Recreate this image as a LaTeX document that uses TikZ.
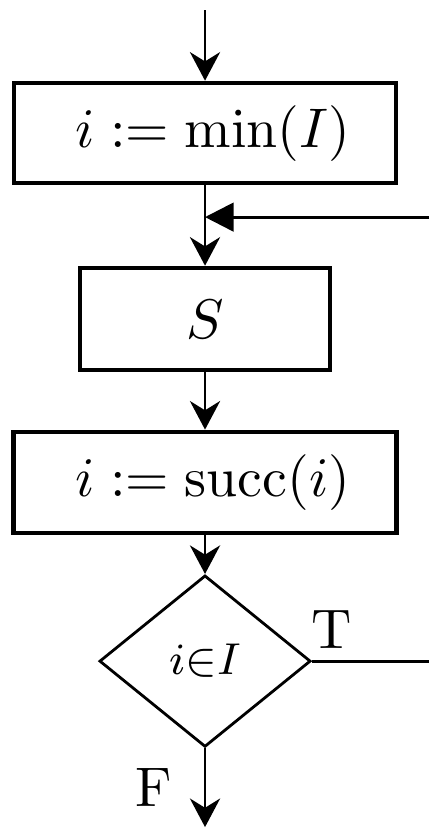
\documentclass[tikz,border=0pt]{standalone}
\usepackage{amsmath}
\usepackage{tikz}
\usetikzlibrary{arrows.meta,shapes.geometric}

\begin{document}
\begin{tikzpicture}[x=1mm,y=1mm,font=\fontsize{10}{12}\selectfont,
  bx/.style={draw,line width=0.85pt,align=center,inner sep=0.7mm},
  dm/.style={draw,diamond,line width=0.5pt,aspect=1.23,minimum width=13.3mm,minimum height=10.8mm,inner sep=0pt,font=\footnotesize},
  ar/.style={-{Stealth[length=1.8mm,width=1.9mm]},line width=0.5pt},
  tr/.style={-{Triangle[length=1.8mm,width=1.8mm]},line width=0.5pt},
  ln/.style={line width=0.5pt},
  lb/.style={inner sep=0.4mm}]
\def\R{14.11}
\useasboundingbox (-12.91,0) rectangle (\R,-52.2);
\coordinate (start) at (0,-0.63);
\node[bx,minimum width=24.06mm,minimum height=6.3mm] (init) at (0,-8.38) {\hspace{1mm}$i := \min(I)$};
\node[bx,minimum width=15.74mm,minimum height=6.42mm] (body) at (0,-20.09) {$S$};
\node[bx,minimum width=24.1mm,minimum height=6.36mm] (next) at (0,-30.38) {\hspace{1mm}$i := \operatorname{succ}(i)$};
\node[dm] (test) at (0,-41.63) {$i{\in}I$};
\coordinate (join) at (0,-13.67);
\coordinate (back) at (\R,-13.67);
\coordinate (true) at (\R,-41.63);
\coordinate (stop) at (0,-52.08);
\draw[ar] (start) -- (init);
\draw[ar] (init) -- (body);
\draw[tr] (back) -- (join);
\draw[ar] (body) -- (next);
\draw[ar] (next) -- (test);
\draw[ln] (test.east) -- node[pos=0,above right,lb,xshift=-0.5mm,yshift=0.3mm]{T} (true);
\draw[ar] (test) -- node[left=1.6mm,lb]{F} (stop);
\end{tikzpicture}
\end{document}
